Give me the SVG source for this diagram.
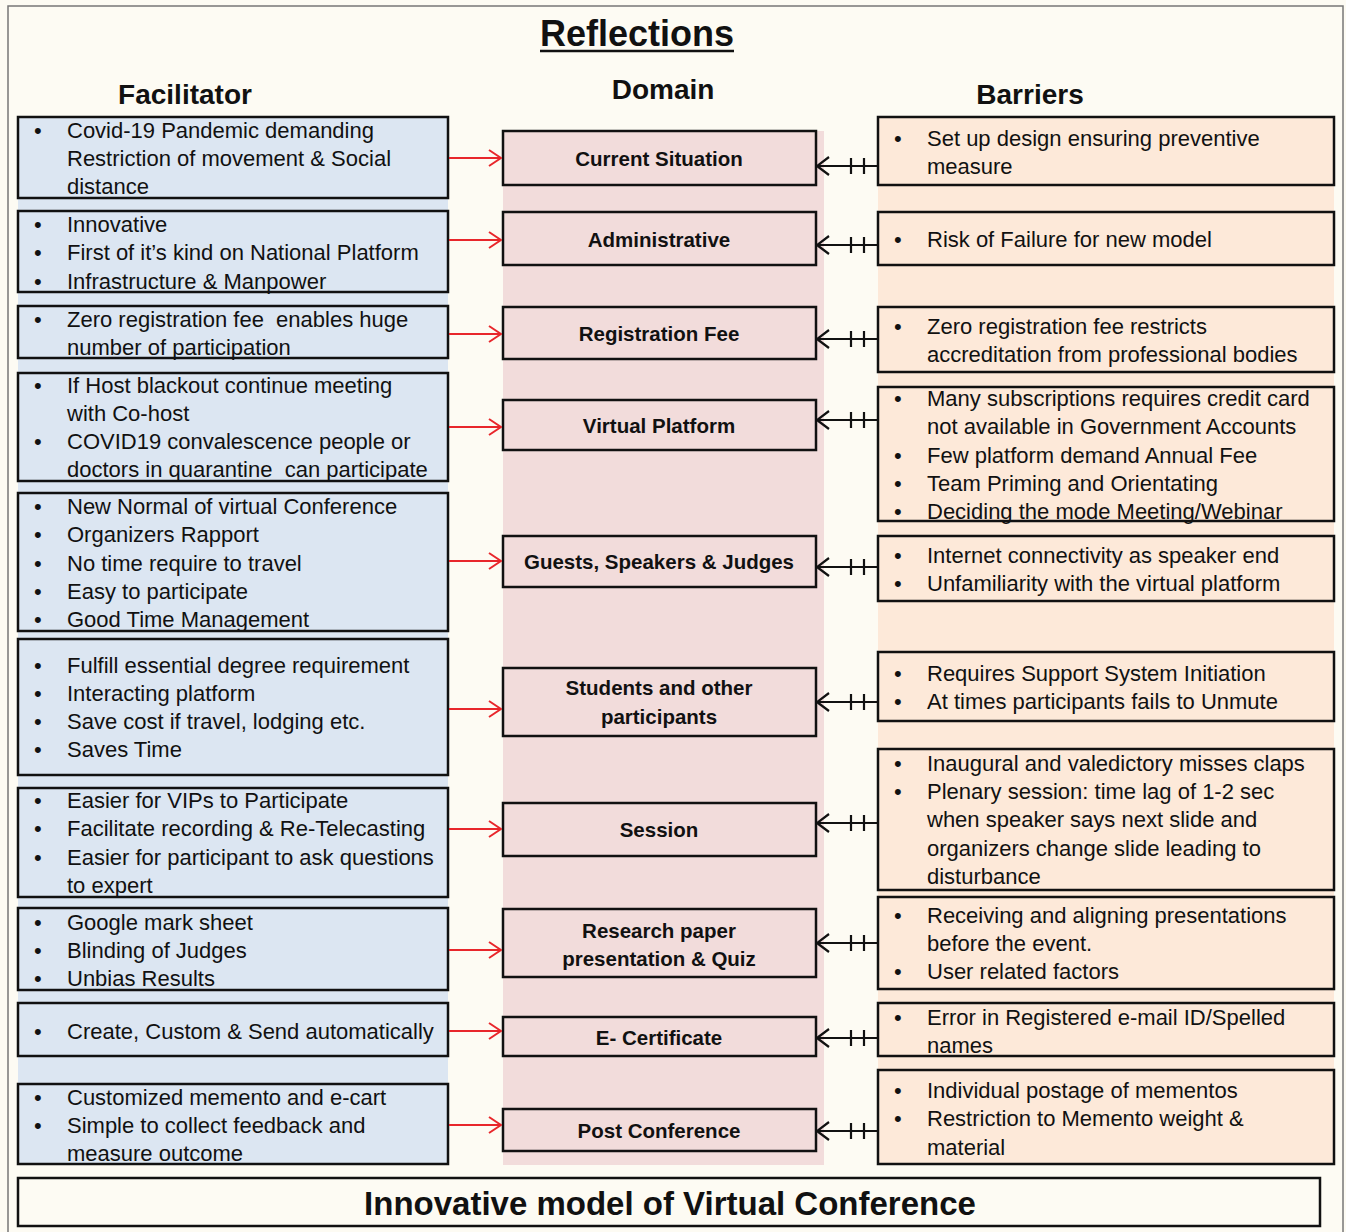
<svg xmlns="http://www.w3.org/2000/svg" width="1346" height="1232" viewBox="0 0 1346 1232">
<defs>
<style>
.t{font-family:"Liberation Sans",Arial,sans-serif;font-size:22px;fill:#111;white-space:pre}
.b{font-family:"Liberation Sans",Arial,sans-serif;font-size:20.5px;font-weight:bold;fill:#111;text-anchor:middle}
.h{font-family:"Liberation Sans",Arial,sans-serif;font-size:28px;font-weight:bold;fill:#111;text-anchor:middle}
.fb{fill:#dce6f2;stroke:#111;stroke-width:2.5}
.db{fill:#f2dcdb;stroke:#111;stroke-width:2.5}
.bb{fill:#fde9d9;stroke:#111;stroke-width:2.5}
.red{stroke:#e8262b;stroke-width:2;fill:none}
.blk{stroke:#111;stroke-width:2.2;fill:none}
</style>
<marker id="ra" markerWidth="14" markerHeight="18" refX="13" refY="9" orient="auto" markerUnits="userSpaceOnUse">
<path d="M1,1 L13,9 L1,17" fill="none" stroke="#e8262b" stroke-width="2"/>
</marker>
<marker id="ka" markerWidth="14" markerHeight="20" refX="13" refY="10" orient="auto" markerUnits="userSpaceOnUse">
<path d="M1,1 L13,10 L1,19" fill="none" stroke="#111" stroke-width="2.2"/>
</marker>
</defs>
<rect x="0" y="0" width="1346" height="1232" fill="#fdfbf3"/>
<rect x="8" y="6" width="1335" height="1240" fill="none" stroke="#777" stroke-width="1.5"/>
<!-- column bands -->
<rect x="18" y="116" width="430" height="1049" fill="#dce6f2"/>
<rect x="503" y="131" width="321" height="1034" fill="#f2dcdb"/>
<rect x="878" y="116" width="456" height="1049" fill="#fde9d9"/>

<g id="title">
<text x="637" y="46" class="h" style="font-size:36px">Reflections</text>
<line x1="540" y1="51" x2="734" y2="51" stroke="#111" stroke-width="2.5"/>
</g>
<g id="headers">
<text x="185" y="104" class="h">Facilitator</text>
<text x="663" y="99" class="h">Domain</text>
<text x="1030" y="104" class="h">Barriers</text>
</g>

<!-- Facilitator -->
<g id="f1"><rect x="18" y="117" width="430" height="81" class="fb"/>
<text x="34" y="138" class="t">•</text><text x="67" y="138" class="t">Covid-19 Pandemic demanding</text>
<text x="67" y="166" class="t">Restriction of movement &amp; Social</text>
<text x="67" y="194" class="t">distance</text></g>
<g id="f2"><rect x="18" y="211" width="430" height="81" class="fb"/>
<text x="34" y="232" class="t">•</text><text x="67" y="232" class="t">Innovative</text>
<text x="34" y="260" class="t">•</text><text x="67" y="260" class="t">First of it’s kind on National Platform</text>
<text x="34" y="289" class="t">•</text><text x="67" y="289" class="t">Infrastructure &amp; Manpower</text></g>
<g id="f3"><rect x="18" y="306" width="430" height="52" class="fb"/>
<text x="34" y="327" class="t">•</text><text x="67" y="327" class="t">Zero registration fee  enables huge</text>
<text x="67" y="355" class="t">number of participation</text></g>
<g id="f4"><rect x="18" y="373" width="430" height="108" class="fb"/>
<text x="34" y="393" class="t">•</text><text x="67" y="393" class="t">If Host blackout continue meeting</text>
<text x="67" y="421" class="t">with Co-host</text>
<text x="34" y="449" class="t">•</text><text x="67" y="449" class="t">COVID19 convalescence people or</text>
<text x="67" y="477" class="t">doctors in quarantine  can participate</text></g>
<g id="f5"><rect x="18" y="493" width="430" height="138" class="fb"/>
<text x="34" y="514" class="t">•</text><text x="67" y="514" class="t">New Normal of virtual Conference</text>
<text x="34" y="542" class="t">•</text><text x="67" y="542" class="t">Organizers Rapport</text>
<text x="34" y="571" class="t">•</text><text x="67" y="571" class="t">No time require to travel</text>
<text x="34" y="599" class="t">•</text><text x="67" y="599" class="t">Easy to participate</text>
<text x="34" y="627" class="t">•</text><text x="67" y="627" class="t">Good Time Management</text></g>
<g id="f6"><rect x="18" y="639" width="430" height="136" class="fb"/>
<text x="34" y="673" class="t">•</text><text x="67" y="673" class="t">Fulfill essential degree requirement</text>
<text x="34" y="701" class="t">•</text><text x="67" y="701" class="t">Interacting platform</text>
<text x="34" y="729" class="t">•</text><text x="67" y="729" class="t">Save cost if travel, lodging etc.</text>
<text x="34" y="757" class="t">•</text><text x="67" y="757" class="t">Saves Time</text></g>
<g id="f7"><rect x="18" y="788" width="430" height="109" class="fb"/>
<text x="34" y="808" class="t">•</text><text x="67" y="808" class="t">Easier for VIPs to Participate</text>
<text x="34" y="836" class="t">•</text><text x="67" y="836" class="t">Facilitate recording &amp; Re-Telecasting</text>
<text x="34" y="865" class="t">•</text><text x="67" y="865" class="t">Easier for participant to ask questions</text>
<text x="67" y="893" class="t">to expert</text></g>
<g id="f8"><rect x="18" y="908" width="430" height="82" class="fb"/>
<text x="34" y="930" class="t">•</text><text x="67" y="930" class="t">Google mark sheet</text>
<text x="34" y="958" class="t">•</text><text x="67" y="958" class="t">Blinding of Judges</text>
<text x="34" y="986" class="t">•</text><text x="67" y="986" class="t">Unbias Results</text></g>
<g id="f9"><rect x="18" y="1003" width="430" height="53" class="fb"/>
<text x="34" y="1039" class="t">•</text><text x="67" y="1039" class="t">Create, Custom &amp; Send automatically</text></g>
<g id="f10"><rect x="18" y="1084" width="430" height="80" class="fb"/>
<text x="34" y="1105" class="t">•</text><text x="67" y="1105" class="t">Customized memento and e-cart</text>
<text x="34" y="1133" class="t">•</text><text x="67" y="1133" class="t">Simple to collect feedback and</text>
<text x="67" y="1161" class="t">measure outcome</text></g>

<!-- Domain -->
<g id="d1"><rect x="503" y="131" width="313" height="54" class="db"/><text x="659" y="166" class="b">Current Situation</text></g>
<g id="d2"><rect x="503" y="212" width="313" height="53" class="db"/><text x="659" y="247" class="b">Administrative</text></g>
<g id="d3"><rect x="503" y="307" width="313" height="52" class="db"/><text x="659" y="341" class="b">Registration Fee</text></g>
<g id="d4"><rect x="503" y="400" width="313" height="50" class="db"/><text x="659" y="433" class="b">Virtual Platform</text></g>
<g id="d5"><rect x="503" y="536" width="313" height="51" class="db"/><text x="659" y="569" class="b">Guests, Speakers &amp; Judges</text></g>
<g id="d6"><rect x="503" y="668" width="313" height="68" class="db"/><text x="659" y="695" class="b">Students and other</text><text x="659" y="724" class="b">participants</text></g>
<g id="d7"><rect x="503" y="803" width="313" height="53" class="db"/><text x="659" y="837" class="b">Session</text></g>
<g id="d8"><rect x="503" y="909" width="313" height="68" class="db"/><text x="659" y="938" class="b">Research paper</text><text x="659" y="966" class="b">presentation &amp; Quiz</text></g>
<g id="d9"><rect x="503" y="1017" width="313" height="39" class="db"/><text x="659" y="1045" class="b">E- Certificate</text></g>
<g id="d10"><rect x="503" y="1109" width="313" height="42" class="db"/><text x="659" y="1138" class="b">Post Conference</text></g>

<!-- Barriers -->
<g id="b1"><rect x="878" y="117" width="456" height="68" class="bb"/>
<text x="894" y="146" class="t">•</text><text x="927" y="146" class="t">Set up design ensuring preventive</text>
<text x="927" y="174" class="t">measure</text></g>
<g id="b2"><rect x="878" y="212" width="456" height="53" class="bb"/>
<text x="894" y="247" class="t">•</text><text x="927" y="247" class="t">Risk of Failure for new model</text></g>
<g id="b3"><rect x="878" y="307" width="456" height="65" class="bb"/>
<text x="894" y="334" class="t">•</text><text x="927" y="334" class="t">Zero registration fee restricts</text>
<text x="927" y="362" class="t">accreditation from professional bodies</text></g>
<g id="b4"><rect x="878" y="387" width="456" height="134" class="bb"/>
<text x="894" y="406" class="t">•</text><text x="927" y="406" class="t">Many subscriptions requires credit card</text>
<text x="927" y="434" class="t">not available in Government Accounts</text>
<text x="894" y="463" class="t">•</text><text x="927" y="463" class="t">Few platform demand Annual Fee</text>
<text x="894" y="491" class="t">•</text><text x="927" y="491" class="t">Team Priming and Orientating</text>
<text x="894" y="519" class="t">•</text><text x="927" y="519" class="t">Deciding the mode Meeting/Webinar</text></g>
<g id="b5"><rect x="878" y="536" width="456" height="65" class="bb"/>
<text x="894" y="563" class="t">•</text><text x="927" y="563" class="t">Internet connectivity as speaker end</text>
<text x="894" y="591" class="t">•</text><text x="927" y="591" class="t">Unfamiliarity with the virtual platform</text></g>
<g id="b6"><rect x="878" y="652" width="456" height="69" class="bb"/>
<text x="894" y="681" class="t">•</text><text x="927" y="681" class="t">Requires Support System Initiation</text>
<text x="894" y="709" class="t">•</text><text x="927" y="709" class="t">At times participants fails to Unmute</text></g>
<g id="b7"><rect x="878" y="749" width="456" height="141" class="bb"/>
<text x="894" y="771" class="t">•</text><text x="927" y="771" class="t">Inaugural and valedictory misses claps</text>
<text x="894" y="799" class="t">•</text><text x="927" y="799" class="t">Plenary session: time lag of 1-2 sec</text>
<text x="927" y="827" class="t">when speaker says next slide and</text>
<text x="927" y="856" class="t">organizers change slide leading to</text>
<text x="927" y="884" class="t">disturbance</text></g>
<g id="b8"><rect x="878" y="897" width="456" height="92" class="bb"/>
<text x="894" y="923" class="t">•</text><text x="927" y="923" class="t">Receiving and aligning presentations</text>
<text x="927" y="951" class="t">before the event.</text>
<text x="894" y="979" class="t">•</text><text x="927" y="979" class="t">User related factors</text></g>
<g id="b9"><rect x="878" y="1003" width="456" height="53" class="bb"/>
<text x="894" y="1025" class="t">•</text><text x="927" y="1025" class="t">Error in Registered e-mail ID/Spelled</text>
<text x="927" y="1053" class="t">names</text></g>
<g id="b10"><rect x="878" y="1070" width="456" height="94" class="bb"/>
<text x="894" y="1098" class="t">•</text><text x="927" y="1098" class="t">Individual postage of mementos</text>
<text x="894" y="1126" class="t">•</text><text x="927" y="1126" class="t">Restriction to Memento weight &amp;</text>
<text x="927" y="1155" class="t">material</text></g>

<!-- Connectors -->
<g id="connectors">
<g class="red" marker-end="url(#ra)">
<line x1="449" y1="158" x2="501" y2="158"/>
<line x1="449" y1="240" x2="501" y2="240"/>
<line x1="449" y1="334" x2="501" y2="334"/>
<line x1="449" y1="427" x2="501" y2="427"/>
<line x1="449" y1="561" x2="501" y2="561"/>
<line x1="449" y1="709" x2="501" y2="709"/>
<line x1="449" y1="829" x2="501" y2="829"/>
<line x1="449" y1="950" x2="501" y2="950"/>
<line x1="449" y1="1031" x2="501" y2="1031"/>
<line x1="449" y1="1125" x2="501" y2="1125"/>
</g>
<g class="blk" marker-end="url(#ka)">
<line x1="877" y1="166" x2="817" y2="166"/>
<line x1="877" y1="245" x2="817" y2="245"/>
<line x1="877" y1="339" x2="817" y2="339"/>
<line x1="877" y1="420" x2="817" y2="420"/>
<line x1="877" y1="567" x2="817" y2="567"/>
<line x1="877" y1="702" x2="817" y2="702"/>
<line x1="877" y1="823" x2="817" y2="823"/>
<line x1="877" y1="943" x2="817" y2="943"/>
<line x1="877" y1="1038" x2="817" y2="1038"/>
<line x1="877" y1="1131" x2="817" y2="1131"/>
</g>
<path class="blk" d="M851,158 V174 M864,158 V174 M851,237 V253 M864,237 V253 M851,331 V347 M864,331 V347 M851,412 V428 M864,412 V428 M851,559 V575 M864,559 V575 M851,694 V710 M864,694 V710 M851,815 V831 M864,815 V831 M851,935 V951 M864,935 V951 M851,1030 V1046 M864,1030 V1046 M851,1123 V1139 M864,1123 V1139"/>
</g>

<g id="footer"><rect x="18" y="1178" width="1302" height="48" fill="#fdfbf3" stroke="#111" stroke-width="2.5"/>
<text x="670" y="1215" class="h" style="font-size:33px">Innovative model of Virtual Conference</text></g>
</svg>
